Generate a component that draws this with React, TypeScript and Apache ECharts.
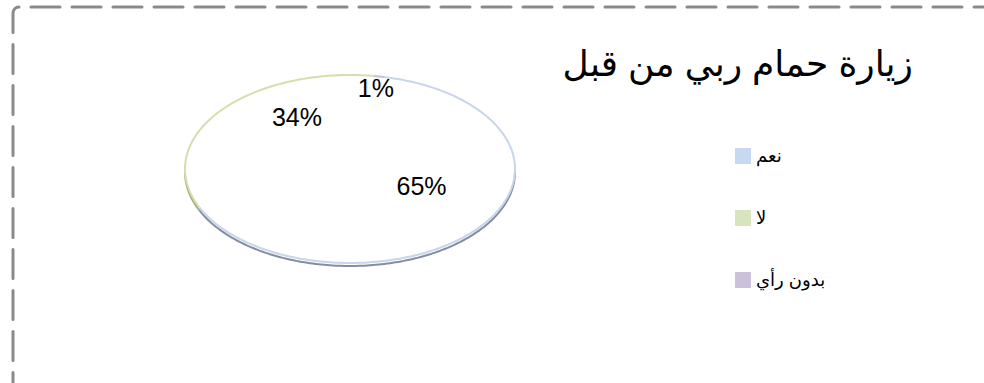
import React, { useEffect, useRef } from "react";
import * as echarts from "echarts";

const titleText = "زيارة حمام ربي من قبل";
const categories = ["نعم", "لا", "بدون رأي"];
const values = [65, 34, 1];
const legendColors = ["#c6d9f1", "#d7e4bd", "#ccc1da"];
const rimColors = ["#c8d5ea", "#d3dfad", "#c9bdd8"];
const sideColors = ["#838ea2", "#a3ad86", "#9186a4"];

const START_ANGLE = 12; // degrees, clockwise from 12 o'clock
const CX = 350;
const CY = 169;
const RX = 165;
const RY = 94;
const DEPTH = 3;
// label placement ellipse (perspective-shifted top surface)
const LCX = CX + 10;
const LCY = CY - 18;
const LRX = RX * 0.48;
const LRY = RY * 0.6;

function pt(a: number, dy = 0): number[] {
  const r = (a * Math.PI) / 180;
  return [CX + RX * Math.sin(r), CY - RY * Math.cos(r) + dy];
}

function arcPoints(a0: number, a1: number, dy = 0): number[][] {
  const n = Math.max(2, Math.ceil(Math.abs(a1 - a0)));
  const out: number[][] = [];
  for (let k = 0; k <= n; k++) out.push(pt(a0 + ((a1 - a0) * k) / n, dy));
  return out;
}

function makeRender(i: number) {
  return (params: any, api: any) => {
    const total = values.reduce((s, v) => s + v, 0);
    const before = values.slice(0, i).reduce((s, v) => s + v, 0);
    const v = api.value(0);
    const a0 = START_ANGLE + (360 * before) / total;
    const a1 = a0 + (360 * v) / total;
    const arc = arcPoints(a0, a1);
    const children: any[] = [];
    children.push({
      type: "polygon",
      shape: { points: [[CX, CY], ...arc] },
      style: { fill: "#ffffff", stroke: "none" },
      silent: true,
    });
    const ranges = [
      [90, 270],
      [450, 630],
    ];
    for (const [f0, f1] of ranges) {
      const s0 = Math.max(a0, f0);
      const s1 = Math.min(a1, f1);
      if (s1 > s0) {
        const top = arcPoints(s0, s1);
        const bot = arcPoints(s0, s1, DEPTH);
        children.push({
          type: "polygon",
          shape: { points: [...top, ...bot.slice().reverse()] },
          style: { fill: "#ffffff", stroke: "none" },
          silent: true,
        });
        children.push({
          type: "polyline",
          shape: { points: bot },
          style: { stroke: sideColors[i], lineWidth: 2, fill: "none" },
          silent: true,
        });
      }
    }
    children.push({
      type: "polyline",
      shape: { points: arc },
      style: { stroke: rimColors[i], lineWidth: 2, fill: "none" },
      silent: true,
    });
    const share = v / total;
    const mid = ((a0 + a1) / 2) * (Math.PI / 180);
    const f = share < 0.05 ? 1.13 : 1;
    const lx = LCX + LRX * f * Math.sin(mid);
    const ly = LCY - LRY * f * Math.cos(mid);
    children.push({
      type: "text",
      x: lx,
      y: ly,
      style: {
        text: Math.round(share * 100) + "%",
        fill: "#000000",
        fontSize: 25,
        fontFamily: "Arial, 'Liberation Sans', sans-serif",
        align: "center",
        verticalAlign: "middle",
        textAlign: "center",
        textVerticalAlign: "middle",
      },
      silent: true,
    });
    return { type: "group", children };
  };
}

export default function App() {
  const ref = useRef<HTMLDivElement>(null);
  useEffect(() => {
    document.body.style.margin = "0";
    const chart = echarts.init(ref.current!, null, { renderer: "svg" });
    chart.setOption({
      animation: false,
      backgroundColor: "#ffffff",
      title: {
        text: titleText,
        right: 66,
        top: 40,
        textStyle: {
          fontSize: 36,
          fontWeight: "normal",
          color: "#000000",
          fontFamily: "Arial, 'DejaVu Sans', sans-serif",
        },
      },
      legend: {
        orient: "vertical",
        left: 730,
        top: 142,
        itemWidth: 16,
        itemHeight: 16,
        itemGap: 44,
        icon: "rect",
        selectedMode: false,
        textStyle: {
          fontSize: 18,
          color: "#000000",
          fontFamily: "Arial, 'DejaVu Sans', sans-serif",
        },
        data: categories.map((name, i) => ({
          name,
          itemStyle: { color: legendColors[i] },
        })),
      },
      graphic: [
        {
          type: "rect",
          shape: { x: 13, y: 7, width: 1000, height: 420, r: 6 },
          style: {
            fill: "none",
            stroke: "#8a8a8a",
            lineWidth: 3,
            lineDash: [29, 12],
            lineDashOffset: 29,
            lineCap: "round",
          },
          silent: true,
        },
      ],
      series: categories.map((name, i) => ({
        type: "custom",
        name,
        coordinateSystem: "none",
        data: [[values[i]]],
        itemStyle: { color: legendColors[i] },
        renderItem: makeRender(i),
      })),
    });
    return () => chart.dispose();
  }, []);
  return <div ref={ref} style={{ width: 984, height: 383 }} />;
}
